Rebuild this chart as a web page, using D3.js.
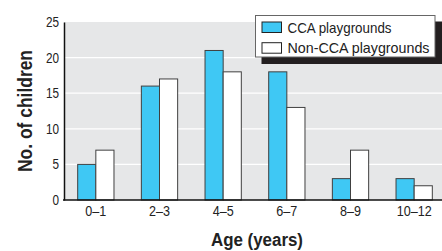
<!DOCTYPE html>
<html>
<head>
<meta charset="utf-8">
<script src="https://cdn.jsdelivr.net/npm/d3@7"></script>
<style>
  body { margin: 0; background: #fff; }
  svg { display: block; font-family: "Liberation Sans", Arial, sans-serif; }
</style>
</head>
<body>
<div id="chart"></div>
<script>
// age groups and counts of children per playground type
var ageGroups = ["0\u20131", "2\u20133", "4\u20135", "6\u20137", "8\u20139", "10\u201312"];
var ccaCounts = [5, 16, 21, 18, 3, 3];
var nonCcaCounts = [7, 17, 18, 13, 7, 2];
var seriesNames = ["CCA playgrounds", "Non-CCA playgrounds"];
var yTicks = [0, 5, 10, 15, 20, 25];

var width = 442, height = 251;
var margin = {top: 22, right: 0, bottom: 51, left: 64};
var colors = ["#3fc8f4", "#ffffff"];
var squeeze = 0.84; // the original uses a condensed face

var svg = d3.select("#chart").append("svg")
    .attr("width", width)
    .attr("height", height);

var x = d3.scaleBand()
    .domain(ageGroups)
    .range([margin.left, 446])
    .paddingInner(0.43)
    .paddingOuter(0.215);

var x1 = d3.scaleBand()
    .domain([0, 1])
    .range([0, x.bandwidth()]);

var y = d3.scaleLinear()
    .domain([0, 25])
    .range([height - margin.bottom, margin.top]);

// plot background
svg.append("rect")
    .attr("x", margin.left)
    .attr("y", y(25))
    .attr("width", width - margin.left)
    .attr("height", y(0) - y(25))
    .attr("fill", "#e6e7e8");

// grid lines
svg.append("g")
    .selectAll("line")
    .data(yTicks.filter(function(d) { return d > 0 && d < 25; }))
    .enter().append("line")
    .attr("x1", margin.left)
    .attr("x2", width)
    .attr("y1", function(d) { return y(d); })
    .attr("y2", function(d) { return y(d); })
    .attr("stroke", "#fff")
    .attr("stroke-width", 1.2);

// bars
var rows = ageGroups.map(function(g, i) {
  return {group: g, values: [ccaCounts[i], nonCcaCounts[i]]};
});

svg.append("g")
  .selectAll("g")
  .data(rows)
  .enter().append("g")
    .attr("transform", function(d) { return "translate(" + x(d.group) + ",0)"; })
  .selectAll("rect")
  .data(function(d) { return d.values; })
  .enter().append("rect")
    .attr("x", function(d, i) { return x1(i); })
    .attr("y", function(d) { return y(d); })
    .attr("width", x1.bandwidth())
    .attr("height", function(d) { return y(0) - y(d); })
    .attr("fill", function(d, i) { return colors[i]; })
    .attr("stroke", "#404040")
    .attr("stroke-width", 1);

// axes
var yAxis = svg.append("g")
    .attr("transform", "translate(" + margin.left + ",0)")
    .call(d3.axisLeft(y).tickValues(yTicks).tickSize(0).tickPadding(5));
yAxis.select(".domain").attr("stroke", "#111").attr("stroke-width", 1.5);
yAxis.selectAll("text")
    .attr("font-size", 14)
    .attr("fill", "#222")
    .attr("x", -5 / squeeze)
    .attr("transform", "scale(" + squeeze + ",1)");

var xAxis = svg.append("g")
    .attr("transform", "translate(0," + y(0) + ")")
    .call(d3.axisBottom(x).tickSize(0).tickPadding(5));
xAxis.select(".domain").remove();
xAxis.selectAll("text")
    .attr("font-size", 15)
    .attr("fill", "#222")
    .attr("transform", "scale(" + squeeze + ",1)");
svg.append("line")
    .attr("x1", margin.left - 1)
    .attr("x2", width)
    .attr("y1", y(0))
    .attr("y2", y(0))
    .attr("stroke", "#111")
    .attr("stroke-width", 1.5);

// axis titles
svg.append("text")
    .attr("transform", "translate(32," + ((y(0) + y(25)) / 2) + ") rotate(-90)")
    .attr("text-anchor", "middle")
    .attr("font-size", 20)
    .attr("font-weight", "bold")
    .attr("fill", "#222")
    .attr("textLength", 122)
    .attr("lengthAdjust", "spacingAndGlyphs")
    .text("No. of children");

svg.append("text")
    .attr("x", 257)
    .attr("y", 245.5)
    .attr("text-anchor", "middle")
    .attr("font-size", 17.5)
    .attr("font-weight", "bold")
    .attr("fill", "#222")
    .attr("textLength", 92)
    .attr("lengthAdjust", "spacingAndGlyphs")
    .text("Age (years)");

// legend with drop shadow
var legendWidths = [104, 142];
var legend = svg.append("g").attr("transform", "translate(255,15)");
legend.append("rect")
    .attr("x", 6.5).attr("y", 6.5)
    .attr("width", 181).attr("height", 42.5)
    .attr("fill", "#231f20");
legend.append("rect")
    .attr("x", 0.5).attr("y", 0.5)
    .attr("width", 179.5).attr("height", 41.5)
    .attr("fill", "#fff")
    .attr("stroke", "#666")
    .attr("stroke-width", 1);

seriesNames.forEach(function(name, i) {
  var row = legend.append("g").attr("transform", "translate(7," + (7 + i * 20.7) + ")");
  row.append("rect")
      .attr("x", 0).attr("y", 0)
      .attr("width", 19.5).attr("height", 10.5)
      .attr("fill", colors[i])
      .attr("stroke", "#222")
      .attr("stroke-width", 1);
  row.append("text")
      .attr("x", 25.5).attr("y", 10.7)
      .attr("font-size", 15)
      .attr("fill", "#222")
      .attr("textLength", legendWidths[i])
      .attr("lengthAdjust", "spacingAndGlyphs")
      .text(name);
});
</script>
</body>
</html>
